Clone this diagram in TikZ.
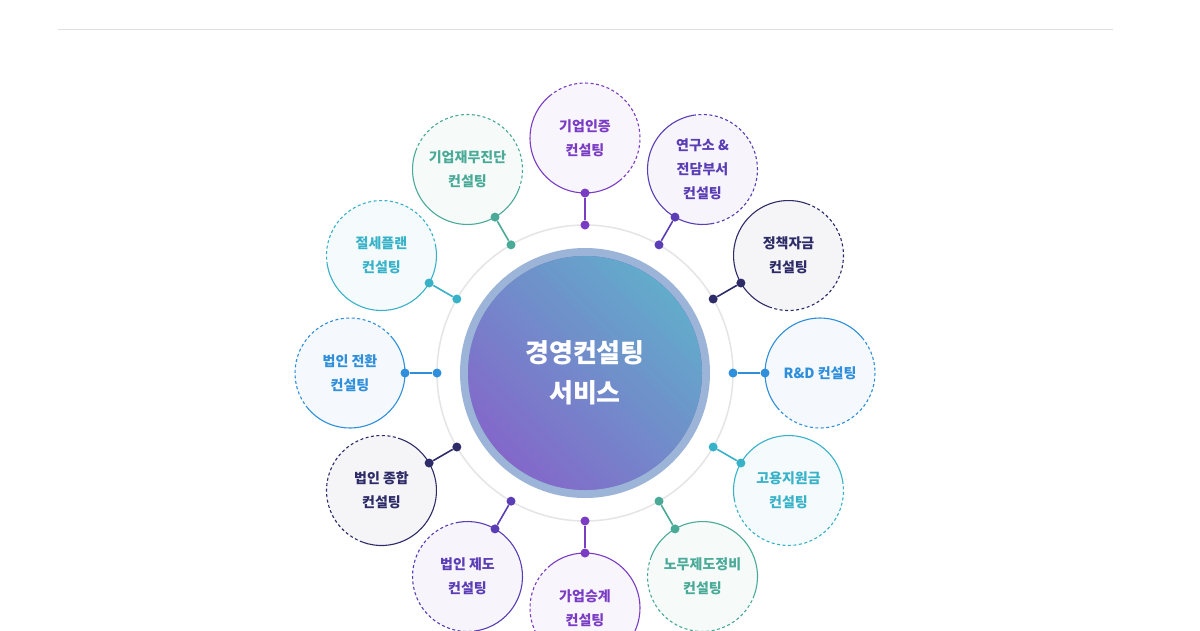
\documentclass[tikz,border=0pt]{standalone}
\usepackage{fontspec}
\setmainfont{Noto Sans CJK KR}
\usetikzlibrary{calc}
\definecolor{cpur}{HTML}{7B3CC4}
\definecolor{cvio}{HTML}{5B3DB5}
\definecolor{cnav}{HTML}{2E2C68}
\definecolor{cblu}{HTML}{2F8FDA}
\definecolor{ccya}{HTML}{38B2C9}
\definecolor{cgrn}{HTML}{4AAA98}
\definecolor{cteal}{HTML}{6CC0C8}
\definecolor{cmag}{HTML}{7A50C8}
\tikzset{
  sat/.style={circle,minimum size=110pt,inner sep=0pt,align=center,font=\bfseries\fontsize{14}{24}\selectfont},
  dotc/.style={circle,inner sep=0pt,minimum size=9pt},
}
\begin{document}
\begin{tikzpicture}[x=1pt,y=-1pt]
\useasboundingbox (0,0) rectangle (1200,630);
\clip (0,0) rectangle (1200,630);
\fill[white] (0,0) rectangle (1200,630);
\draw[gray!25,line width=0.8pt] (58,29) -- (1113,29);
\coordinate (c) at (585,373);
\draw[gray!20,line width=1.5pt] (c) circle[radius=148];
\foreach \a/\col/\txt [count=\i] in {
  90/cpur/{기업인증\\컨설팅},
  60/cvio/{연구소 \&\\전담부서\\컨설팅},
  30/cnav/{정책자금\\컨설팅},
  0/cblu/{R\&D 컨설팅},
  -30/ccya/{고용지원금\\컨설팅},
  -60/cgrn/{노무제도정비\\컨설팅},
  -90/cpur/{가업승계\\컨설팅},
  -120/cvio/{법인 제도\\컨설팅},
  -150/cnav/{법인 종합\\컨설팅},
  180/cblu/{법인 전환\\컨설팅},
  150/ccya/{절세플랜\\컨설팅},
  120/cgrn/{기업재무진단\\컨설팅}}
{
  \coordinate (p\i) at ($(c)+({235*cos(\a)},{-235*sin(\a)})$);
  \fill[\col!5] (p\i) circle[radius=55];
  \draw[\col,line width=1.1pt] ($(p\i)+({55*cos(\a+40)},{-55*sin(\a+40)})$) arc[start angle=-(\a+40),delta angle=-180,radius=55];
  \draw[\col,line width=1.1pt,dash pattern=on 3pt off 2.5pt] ($(p\i)+({55*cos(\a+40)},{-55*sin(\a+40)})$) arc[start angle=-(\a+40),delta angle=180,radius=55];
  \node[sat,text=\col] (s\i) at (p\i) {\txt};
  \node[dotc,fill=\col] (d\i) at ($(c)+({180*cos(\a)},{-180*sin(\a)})$) {};
  \node[dotc,fill=\col] (r\i) at ($(c)+({148*cos(\a)},{-148*sin(\a)})$) {};
  \draw[\col,line width=1.6pt] (d\i) -- (r\i);
}
\fill[cteal!60!cmag!70] (c) circle[radius=125];
\shade[left color=cteal!85!black!95,right color=cmag,shading angle=135] (c) circle[radius=117];
\shade[top color=cteal!80!cblu,bottom color=cmag!90,shading angle=-45,opacity=0.9] (c) circle[radius=117];
\node[text=white,font=\bfseries\fontsize{26}{40}\selectfont,align=center] (ctr) at (c) {경영컨설팅\\서비스};
\end{tikzpicture}
\end{document}
